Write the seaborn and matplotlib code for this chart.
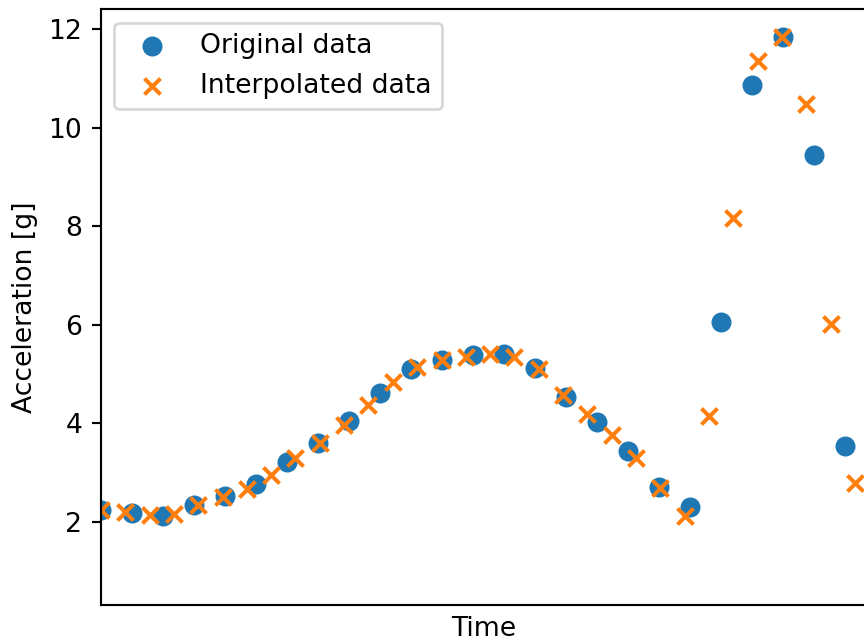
import matplotlib
matplotlib.use("Agg")
import matplotlib.pyplot as plt
import seaborn as sns

# Sampled acceleration signal
time_original = [0, 1, 2, 3, 4, 5, 6, 7, 8, 9, 10, 11, 12, 13, 14, 15, 16, 17,
                 18, 19, 20, 21, 22, 23, 24]
accel_original = [2.24, 2.18, 2.12, 2.34, 2.52, 2.76, 3.22, 3.59, 4.05, 4.62,
                  5.10, 5.29, 5.38, 5.40, 5.13, 4.54, 4.03, 3.44, 2.70, 2.30,
                  6.06, 10.87, 11.85, 9.45, 3.54]

# Resampled signal on a finer time grid
time_interp = [0.00, 0.78, 1.57, 2.35, 3.14, 3.92, 4.70, 5.49, 6.27, 7.06,
               7.84, 8.62, 9.41, 10.19, 10.98, 11.76, 12.54, 13.33, 14.11,
               14.90, 15.68, 16.46, 17.25, 18.03, 18.82, 19.60, 20.38, 21.17,
               21.95, 22.74, 23.52, 24.30]
accel_interp = [2.24, 2.20, 2.13, 2.15, 2.34, 2.51, 2.66, 2.95, 3.29, 3.60,
                3.96, 4.37, 4.83, 5.14, 5.29, 5.35, 5.40, 5.35, 5.11, 4.58,
                4.18, 3.77, 3.30, 2.68, 2.12, 4.14, 8.17, 11.35, 11.85, 10.49,
                6.01, 2.79]

W, H = 864, 640
fig = plt.figure(figsize=(4.5, H / 192), dpi=192)
ax = fig.add_axes([101 / W, 35 / H, 765 / W, (605 - 9.3) / H])

sns.scatterplot(x=time_original, y=accel_original, ax=ax, color="#1f77b4",
                s=36, linewidth=1.5, edgecolor="face", label="Original data")
sns.scatterplot(x=time_interp, y=accel_interp, ax=ax, color="#ff7f0e",
                marker="x", s=36, linewidth=1.5, label="Interpolated data")

ax.set_xlim(0, 765 / 31.02)
ax.set_ylim(0.308, 12.406)
ax.set_xticks([])
ax.set_yticks([2, 4, 6, 8, 10, 12])
ax.set_xlabel("Time")
ax.set_ylabel("Acceleration [g]")
ax.legend(loc="upper left")

fig.savefig("out.png", dpi=192)
